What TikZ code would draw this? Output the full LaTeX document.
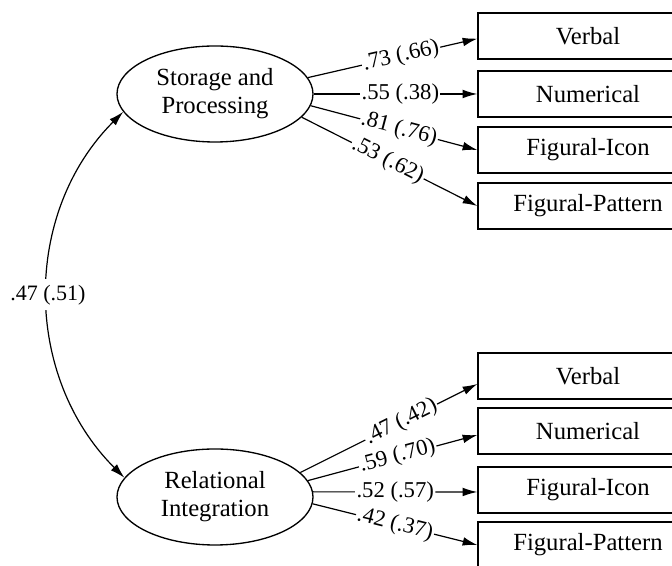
\documentclass[tikz,border=0pt]{standalone}
\usepackage{fontspec}
\setmainfont{Liberation Serif}
\usepackage{tikz}
\usetikzlibrary{arrows.meta}
\usetikzlibrary{shapes.geometric}
\tikzset{
    common/.style={draw, line width=1pt},
    latent/.style={common, ellipse, inner sep=0pt, minimum width=147pt, minimum height=72pt, align=center, font=\fontsize{18.5}{21}\selectfont},
    indicator/.style={common, rectangle, minimum width=165pt, minimum height=34.5pt, font=\fontsize{18.5}{21}\selectfont},
    load/.style={->, line width=0.9pt},
    coef/.style={sloped, fill=white, inner sep=1pt, font=\fontsize{17}{19}\selectfont},
    >={Latex[length=11pt, width=6.5pt]}
}

\begin{document}
\begin{tikzpicture}[x=0.75pt, y=0.75pt]
      \useasboundingbox (0,0) rectangle (672,566);
      \clip (0,0) rectangle (672,566);

      \path
          (215,472) node[latent] (sp) {Storage and\\Processing}
          +(373,58) node[indicator] (sp-verbal) {Verbal}
          +(373,0) node[indicator] (sp-numerical) {Numerical}
          +(373,-56) node[indicator] (sp-icon) {Figural-Icon}
          +(373,-112) node[indicator] (sp-pattern) {Figural-Pattern};

      \path
          (215,69) node[latent] (ri) {Relational\\Integration}
          +(373,121) node[indicator] (ri-verbal) {Verbal}
          +(373,66) node[indicator] (ri-numerical) {Numerical}
          +(373,7) node[indicator] (ri-icon) {Figural-Icon}
          +(373,-48) node[indicator] (ri-pattern) {Figural-Pattern};

      \draw[load] (sp.10) -- node[coef, pos=0.55] {.73 (.66)} ([yshift=-2pt]sp-verbal.west);
      \draw[load] (sp.0) -- node[coef, pos=0.53] {.55 (.38)} (sp-numerical.west);
      \draw[load] (sp.-7) -- node[coef, pos=0.53] {.81 (.76)} (sp-icon.west);
      \draw[load] (sp.-15) -- node[coef, pos=0.49] {.53 (.62)} (sp-pattern.west);

      \draw[load] (ri.16) -- node[coef, pos=0.57] {.47 (.42)} ([yshift=-6pt]ri-verbal.west);
      \draw[load] (ri.10) -- node[coef, pos=0.53] {.59 (.70)} ([yshift=-3pt]ri-numerical.west);
      \draw[load] (ri.3) -- node[coef, pos=0.5] {.52 (.57)} ([yshift=-1.5pt]ri-icon.west);
      \draw[load] (ri.-4) -- node[coef, pos=0.5] {.42 (.37)} (ri-pattern.west);

      \draw[<->, line width=0.9pt] (sp.191) to[out=225, in=135] node[midway, fill=white, inner xsep=1pt, inner ysep=4pt, font=\fontsize{16.5}{19}\selectfont] (corr) {.47 (.51)} (ri.168);
\end{tikzpicture}
\end{document}
